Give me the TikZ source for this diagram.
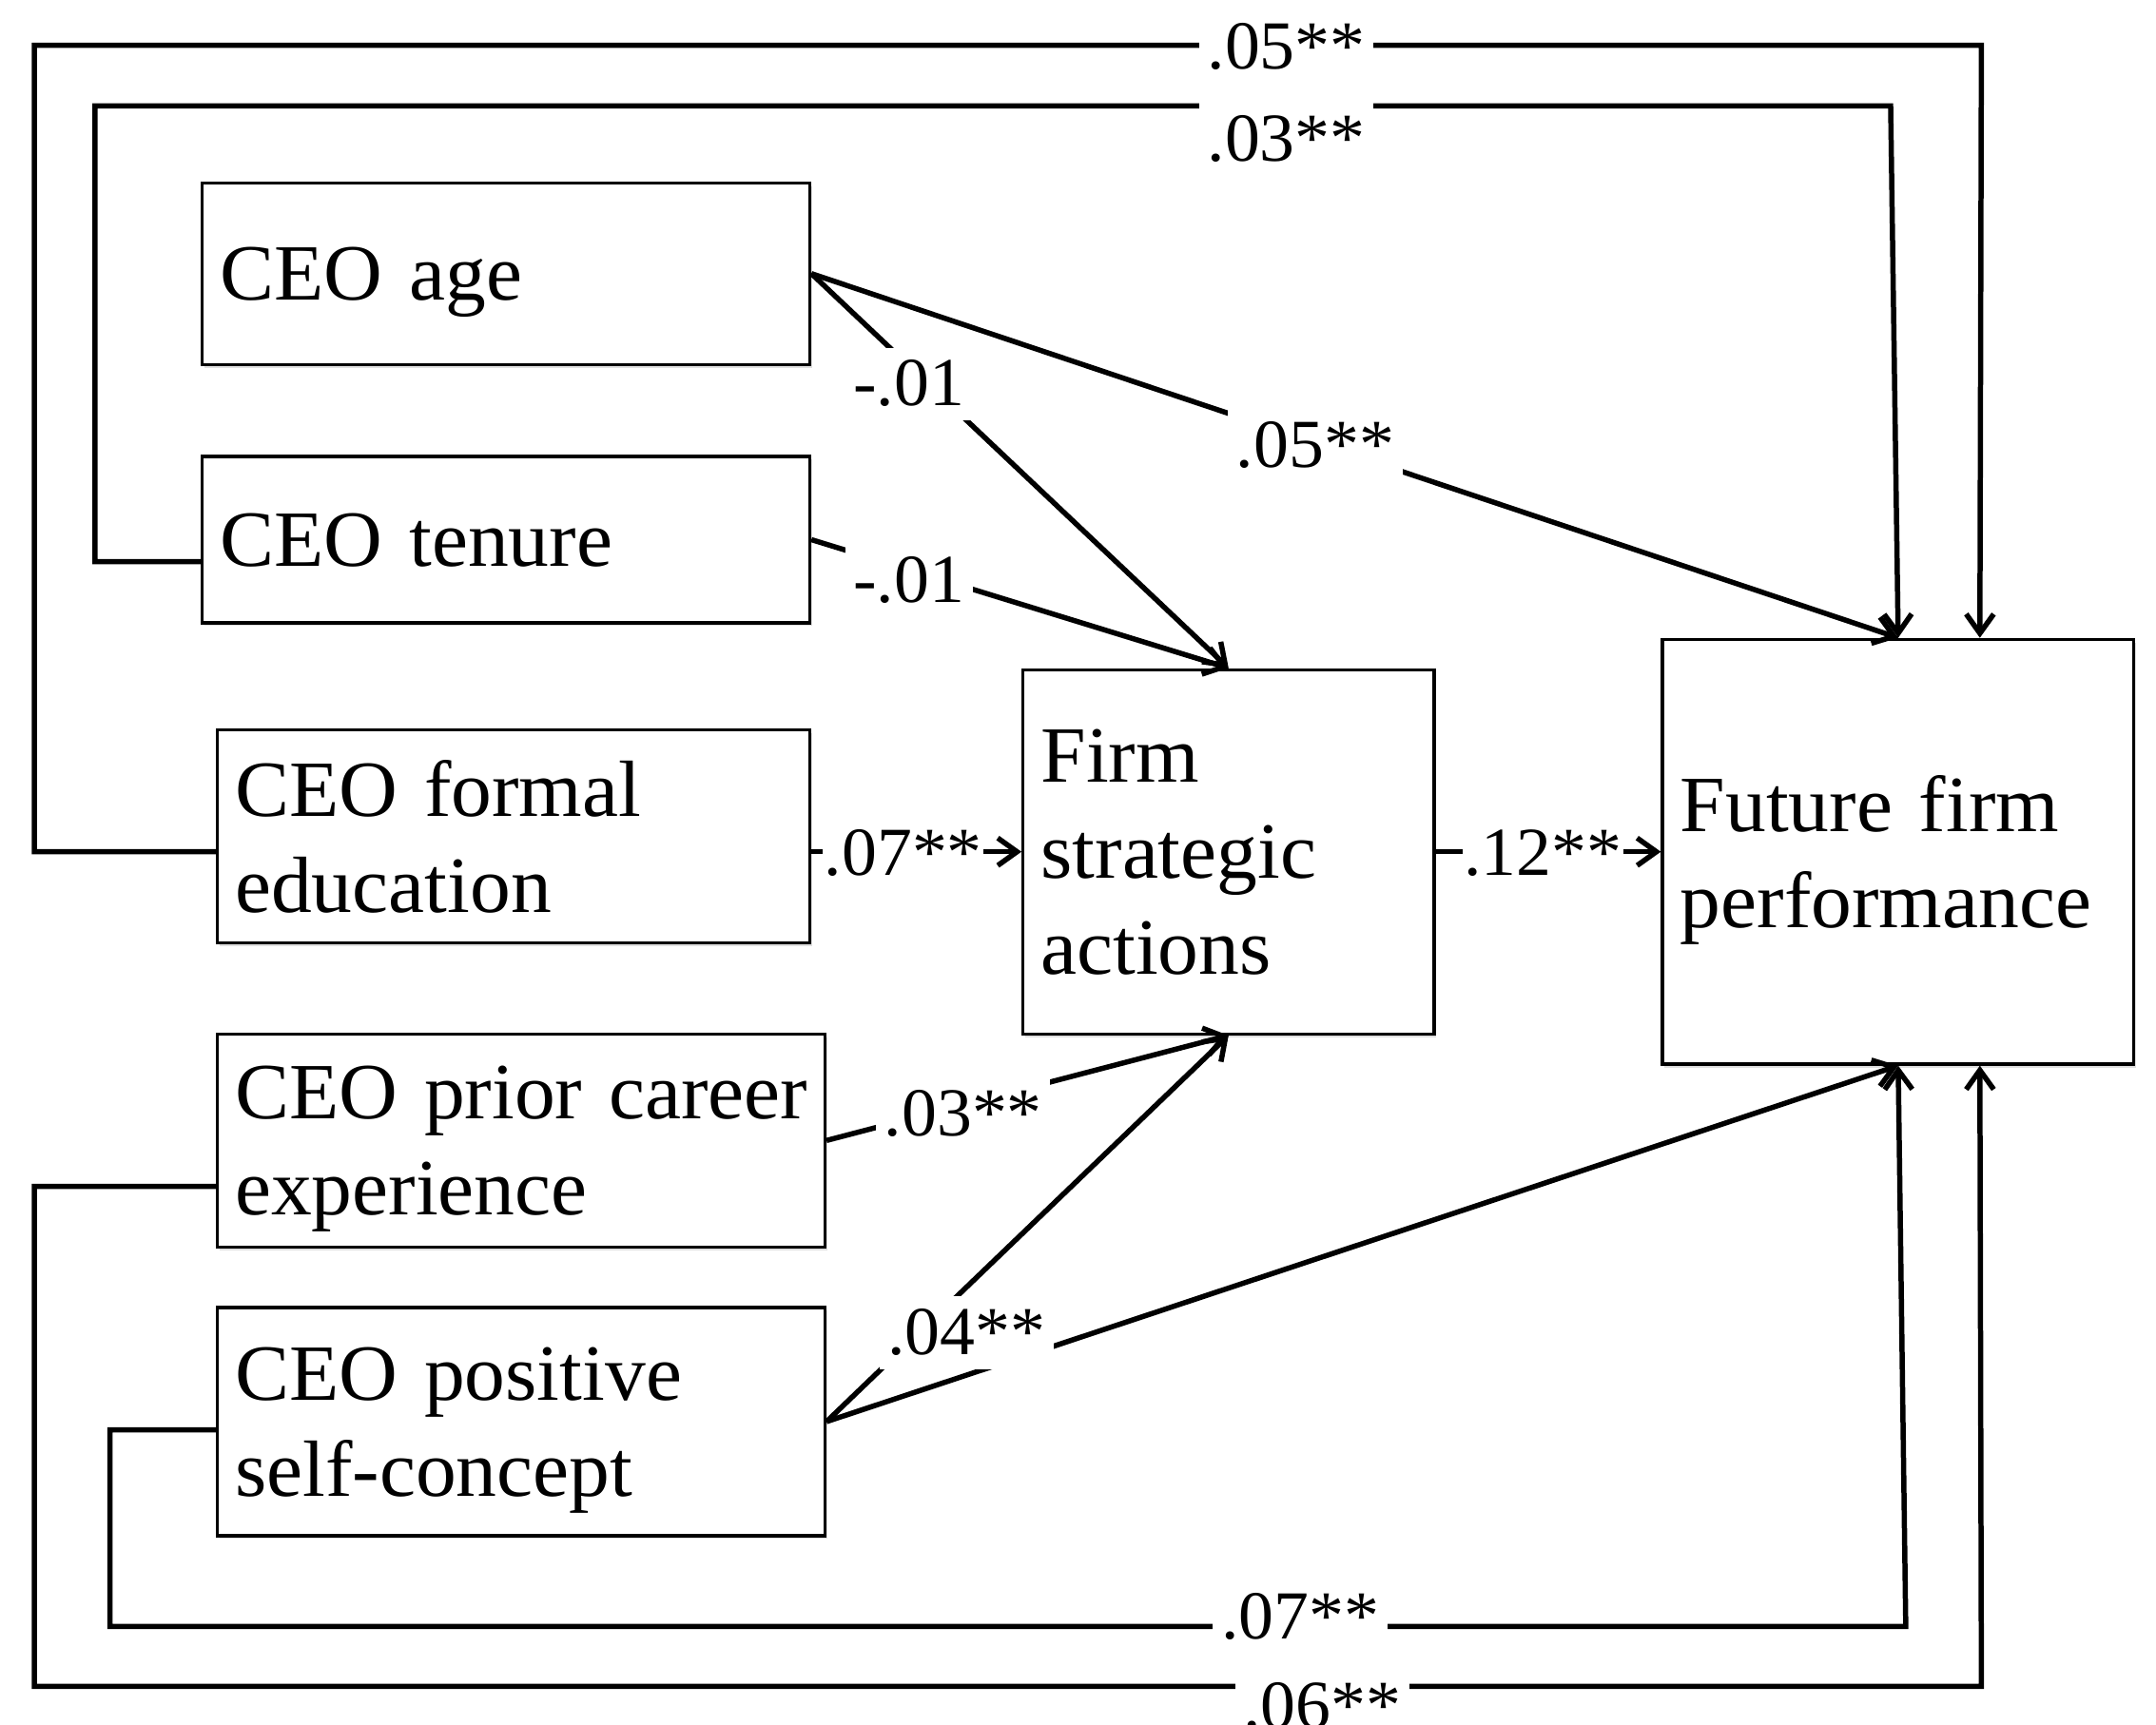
\documentclass[tikz,border=0pt]{standalone}
\usepackage{fontspec}
\setmainfont{Liberation Serif}[FakeStretch=1.02]
\usetikzlibrary{arrows.meta,calc,shadows}
\newcommand\myboxfont{\fontsize{29}{35}\selectfont\spaceskip=5.5pt plus 2pt minus 1pt\relax}
\begin{document}
\begin{tikzpicture}[x=0.5pt,y=-0.5pt,
  box/.style={draw, line width=1.1pt, rectangle, inner xsep=6.5pt, inner ysep=0pt,
    align=left, font=\myboxfont, fill=white,
    drop shadow={shadow xshift=0.8pt, shadow yshift=-1.2pt, opacity=0.12, fill=black}},
  one/.style={text depth=0pt},
  two/.style={text depth=35pt},
  three/.style={text depth=70pt},
  conn/.style={line width=1.9pt, line join=miter, -{Straight Barb[length=7pt,width=10pt,line width=1.9pt]}},
  lab/.style={fill=white, inner xsep=3pt, inner ysep=3.5pt, text height=17.5pt, text depth=2pt,
    font=\fontsize{25}{30}\selectfont, anchor=base},
  tight/.style={inner xsep=0.5pt}
]
\useasboundingbox (0,0) rectangle (1568,1254);
\fill[white] (0,0) rectangle (1568,1254);

% boxes
\node[box, one, text width=208pt, minimum height=66pt] (age) at (368,199) {CEO age};
\node[box, one, text width=208pt, minimum height=60.5pt] (ten) at (368,392.5) {CEO tenure};
\node[box, two, text width=202.5pt, minimum height=77.5pt] (edu) at (373.5,608.5) {\mbox{CEO formal}\\education};
\node[box, two, text width=208pt, minimum height=77.5pt] (pri) at (379,829.5) {\mbox{CEO prior career}\\experience};
\node[box, two, text width=208pt, minimum height=83pt] (pos) at (379,1034) {\mbox{CEO positive}\\self-concept};
\node[box, three, text width=136.5pt, minimum height=132.5pt] (firm) at (893.5,619.5) {Firm\\strategic\\actions};
\node[box, two, text width=158.5pt, minimum height=154.5pt] (fut) at (1380.5,619.5) {\mbox{Future firm}\\performance};

% outer loops
\draw[conn] ($(edu.west)+(0,11)$) -- (25,619.5) -- (25,33) -- (1441,33) -- ($(fut.north west)+(232,0)$);
\draw[conn] ($(ten.west)+(0,16)$) -- (69,408.5) -- (69,77) -- (1375,77) -- (fut.north);
\draw[conn] ($(pos.west)+(0,6)$) -- (80,1040) -- (80,1183) -- (1386,1183) -- (fut.south);
\draw[conn] ($(pri.west)+(0,33.5)$) -- (25,863) -- (25,1226.5) -- (1441,1226.5) -- ($(fut.south west)+(232,0)$);

% direct paths
\draw[conn] (age.east) -- (firm.north);
\draw[conn] (age.east) -- (fut.north);
\draw[conn] (ten.east) -- (firm.north);
\draw[conn] (edu.east |- firm.west) -- (firm.west);
\draw[conn] (firm.east) -- (fut.west);
\draw[conn] (pri.east) -- (firm.south);
\draw[conn] (pos.east) -- (firm.south);
\draw[conn] (pos.east) -- (fut.south);

% labels
\node[lab] (l1) at (935.5,50) {.05**};
\node[lab] (l2) at (935.5,117) {.03**};
\node[lab] (l3) at (661,295) {-.01};
\node[lab] (l4) at (956.5,340) {.05**};
\node[lab] (l5) at (661,438) {-.01};
\node[lab, tight] (l6) at (657,637) {.07**};
\node[lab, tight] (l7) at (1122,637) {.12**};
\node[lab] (l8) at (700.5,826) {.03**};
\node[lab] (l9) at (703,985) {.04**};
\node[lab] (l10) at (945.5,1192) {.07**};
\node[lab] (l11) at (961.5,1257) {.06**};
\end{tikzpicture}
\end{document}
